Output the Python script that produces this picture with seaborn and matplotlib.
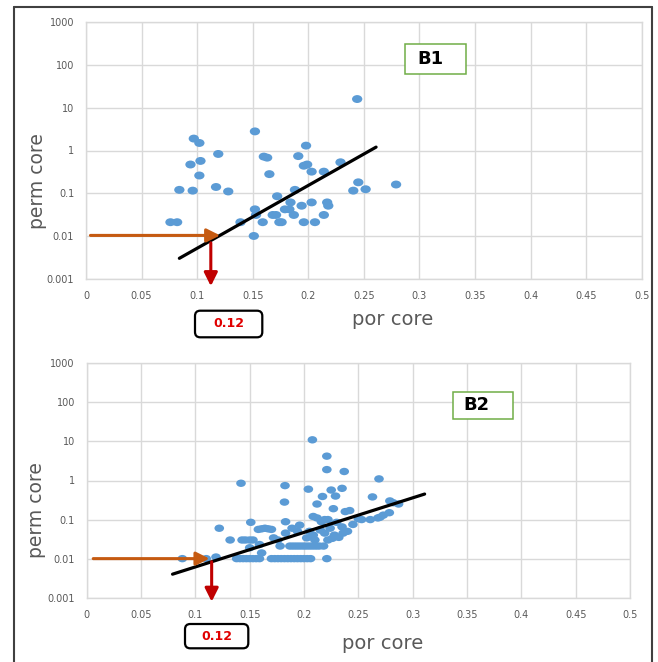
import numpy as np
import pandas as pd
import matplotlib
matplotlib.use("Agg")
import matplotlib.pyplot as plt
from matplotlib.path import Path
from matplotlib.transforms import Affine2D
from matplotlib.patches import FancyBboxPatch, Rectangle
from matplotlib.lines import Line2D
import seaborn as sns

# ---------------- data ----------------
# Well B1: core porosity (fraction) vs core permeability (mD)
b1_por = [0.076, 0.082, 0.084, 0.094, 0.096, 0.097, 0.102, 0.102, 0.103, 0.117,
          0.119, 0.128, 0.139, 0.151, 0.152, 0.152, 0.153, 0.159, 0.160, 0.163,
          0.165, 0.168, 0.171, 0.172, 0.174, 0.176, 0.179, 0.183, 0.184, 0.187,
          0.188, 0.191, 0.194, 0.196, 0.196, 0.198, 0.199, 0.203, 0.203, 0.206,
          0.214, 0.214, 0.217, 0.218, 0.229, 0.2405, 0.244, 0.245, 0.2516, 0.279]
b1_perm = [0.021, 0.021, 0.12, 0.47, 0.115, 1.9, 1.5, 0.26, 0.57, 0.14,
           0.83, 0.11, 0.021, 0.01, 2.8, 0.042, 0.031, 0.021, 0.72, 0.68,
           0.28, 0.031, 0.031, 0.085, 0.021, 0.021, 0.042, 0.042, 0.061, 0.031,
           0.12, 0.74, 0.051, 0.021, 0.44, 1.3, 0.47, 0.32, 0.061, 0.021,
           0.031, 0.32, 0.061, 0.051, 0.53, 0.115, 16, 0.18, 0.124, 0.16]

# Well B2: core porosity (fraction) vs core permeability (mD)
b2_por = [
    # 0.01 mD floor
    0.088, 0.110, 0.119, 0.138, 0.141, 0.144, 0.147, 0.150, 0.153, 0.156,
    0.159, 0.170, 0.173, 0.176, 0.179, 0.182, 0.185, 0.188, 0.191, 0.194,
    0.197, 0.200, 0.203, 0.206, 0.221,
    # ~0.02 mD
    0.159, 0.178, 0.187, 0.190, 0.193, 0.196, 0.199, 0.202, 0.205, 0.208,
    0.211, 0.214, 0.218, 0.150, 0.161,
    # ~0.03 mD
    0.132, 0.143, 0.146, 0.150, 0.153, 0.172, 0.176, 0.2025, 0.222, 0.226,
    0.232, 0.210,
    # 0.04 - 0.06 mD
    0.183, 0.2085, 0.219, 0.228, 0.236, 0.215, 0.224, 0.240, 0.158, 0.161,
    0.164, 0.167, 0.170, 0.189, 0.122, 0.194, 0.205,
    # 0.07 - 0.12 mD
    0.151, 0.183, 0.196, 0.216, 0.230, 0.235, 0.245, 0.212, 0.222, 0.2085,
    0.219, 0.253, 0.261, 0.268, 0.270, 0.250,
    # higher permeability
    0.142, 0.1825, 0.182, 0.204, 0.2077, 0.221, 0.221, 0.237, 0.269, 0.225,
    0.235, 0.217, 0.229, 0.263, 0.212, 0.227, 0.238, 0.242, 0.279, 0.282,
    0.287, 0.2785, 0.273]
b2_perm = [
    0.01, 0.01, 0.011, 0.01, 0.01, 0.01, 0.01, 0.01, 0.01, 0.01,
    0.01, 0.01, 0.01, 0.01, 0.01, 0.01, 0.01, 0.01, 0.01, 0.01,
    0.01, 0.01, 0.01, 0.01, 0.01,
    0.023, 0.021, 0.021, 0.021, 0.021, 0.021, 0.021, 0.021, 0.021, 0.021,
    0.021, 0.021, 0.021, 0.019, 0.014,
    0.03, 0.03, 0.03, 0.03, 0.03, 0.034, 0.03, 0.034, 0.03, 0.033,
    0.035, 0.03,
    0.045, 0.04, 0.045, 0.04, 0.045, 0.054, 0.06, 0.05, 0.056, 0.058,
    0.06, 0.058, 0.056, 0.06, 0.06, 0.05, 0.05,
    0.085, 0.088, 0.072, 0.088, 0.085, 0.065, 0.075, 0.11, 0.1, 0.12,
    0.1, 0.1, 0.1, 0.11, 0.115, 0.105,
    0.85, 0.74, 0.28, 0.6, 11, 4.2, 1.9, 1.7, 1.1, 0.57,
    0.63, 0.39, 0.4, 0.38, 0.25, 0.19, 0.16, 0.17, 0.3, 0.27,
    0.25, 0.15, 0.13]

# exponential trend lines (end points)
b1_trend_por = [0.084, 0.261]
b1_trend_perm = [0.003, 1.2]
b2_trend_por = [0.079, 0.311]
b2_trend_perm = [0.004, 0.45]

cutoff_label = "0.12"
x_ticks = [0, 0.05, 0.1, 0.15, 0.2, 0.25, 0.3, 0.35, 0.4, 0.45, 0.5]
x_tick_labels = ["0", "0.05", "0.1", "0.15", "0.2", "0.25", "0.3", "0.35", "0.4", "0.45", "0.5"]
y_ticks = [0.001, 0.01, 0.1, 1, 10, 100, 1000]
y_tick_labels = ["0.001", "0.01", "0.1", "1", "10", "100", "1000"]

# ---------------- style ----------------
sns.set_theme(style="white")
plt.rcParams["font.family"] = ["DejaVu Sans"]

W, H = 658, 662
fig = plt.figure(figsize=(W / 100, H / 100), dpi=100)
fig.patch.set_facecolor("white")

GRAY_TXT = "#595959"
GRID = "#D9D9D9"
BLUE = "#5B9BD5"
ORANGE = "#C55A11"
DARKRED = "#C00000"
GREEN = "#70AD47"

# horizontally elongated dot marker
ellipse = Path.unit_circle().transformed(Affine2D().scale(1.3, 1.0))


def fx(px):
    return px / W


def fy(py):
    return 1 - py / H


def panel(rect_px, por, perm, t_por, t_perm, ms, arrow, label_box, tag_box, tag, xl_pos, yl_pos):
    l, t, r, b = rect_px
    ax = fig.add_axes([fx(l), fy(b), fx(r) - fx(l), (b - t) / H])
    ax.set_facecolor("white")
    df = pd.DataFrame({"por": por, "perm": perm})
    sns.scatterplot(data=df, x="por", y="perm", ax=ax, marker=ellipse, s=ms,
                    color=BLUE, edgecolor="none", linewidth=0, zorder=3, legend=False)
    tr = pd.DataFrame({"por": t_por, "perm": t_perm})
    sns.lineplot(data=tr, x="por", y="perm", ax=ax, color="black", lw=2.3,
                 zorder=4, legend=False)
    ax.set_yscale("log")
    ax.set_xlim(0, 0.5)
    ax.set_ylim(0.001, 1000)
    ax.set_xticks(x_ticks)
    ax.set_xticklabels(x_tick_labels)
    ax.set_yticks(y_ticks)
    ax.set_yticklabels(y_tick_labels)
    ax.yaxis.set_minor_locator(matplotlib.ticker.NullLocator())
    ax.tick_params(axis="both", length=0, labelsize=7, colors=GRAY_TXT)
    ax.tick_params(axis="y", pad=8.5)
    ax.tick_params(axis="x", pad=8.5)
    ax.grid(True, color=GRID, lw=1.0)
    for s in ax.spines.values():
        s.set_color(GRID)
        s.set_linewidth(1.0)
    ax.set_xlabel("por core", fontsize=14, color=GRAY_TXT, va="center")
    ax.set_ylabel("perm core", fontsize=13.5, color=GRAY_TXT, va="center")
    ax.xaxis.set_label_coords(*xl_pos)
    ax.yaxis.set_label_coords(*yl_pos)

    # cutoff arrows
    (hx0, hx1, hy), (vx, vy0, vy1) = arrow
    ax.annotate("", xy=(hx1, hy), xytext=(hx0, hy),
                arrowprops=dict(arrowstyle="-|>,head_length=0.8,head_width=0.4",
                                color=ORANGE, lw=2.2, shrinkA=0, shrinkB=0,
                                mutation_scale=10), zorder=5)
    ax.annotate("", xy=(vx, vy1), xytext=(vx, vy0), annotation_clip=False,
                arrowprops=dict(arrowstyle="-|>,head_length=0.8,head_width=0.4",
                                color=DARKRED, lw=2.2, shrinkA=0, shrinkB=0,
                                mutation_scale=10), zorder=5)

    # cutoff value box
    bl, bt, br, bb = label_box
    fig.add_artist(FancyBboxPatch((fx(bl), fy(bb)), fx(br) - fx(bl), (bb - bt) / H,
                                  boxstyle="round,pad=0,rounding_size=0.008",
                                  transform=fig.transFigure, facecolor="white",
                                  edgecolor="black", lw=1.6))
    fig.text(fx((bl + br) / 2), fy((bt + bb) / 2), cutoff_label, color="#E00000",
             fontsize=9, fontweight="bold", ha="center", va="center")

    # well tag box
    gl, gt, gr, gb, tx = tag_box
    ax.add_artist(Rectangle((fx(gl), fy(gb)), fx(gr) - fx(gl), (gb - gt) / H,
                            transform=fig.transFigure, facecolor="white",
                            edgecolor=GREEN, lw=1.1, zorder=6))
    fig.text(fx(tx), fy((gt + gb) / 2), tag, fontsize=13, fontweight="bold",
             color="black", ha="center", va="center", zorder=7)
    return ax


panel((86, 22.3, 641.7, 278.7), b1_por, b1_perm, b1_trend_por, b1_trend_perm, 55,
      ((0.004, 0.1207, 0.0103), (0.1123, 0.0069, 0.00067)),
      (195, 310.7, 262.3, 337.3), (405, 44.3, 465.7, 74, 430), "B1",
      (0.552, -0.161), (-0.087, 0.379))

panel((86.7, 363.3, 630, 597.7), b2_por, b2_perm, b2_trend_por, b2_trend_perm, 48,
      ((0.006, 0.113, 0.01), (0.115, 0.0083, 0.00079)),
      (185, 624, 248.3, 648.3), (452.7, 391.7, 513.3, 419, 476.7), "B2",
      (0.545, -0.1975), (-0.092, 0.374))

# outer frame
frame_kw = dict(color="#404040", lw=1.5, transform=fig.transFigure)
fig.add_artist(Line2D([fx(14), fx(652)], [fy(7), fy(7)], **frame_kw))
fig.add_artist(Line2D([fx(14), fx(14)], [fy(7), fy(670)], **frame_kw))
fig.add_artist(Line2D([fx(652), fx(652)], [fy(7), fy(670)], **frame_kw))

fig.savefig("out.png", dpi=100, facecolor="white")
